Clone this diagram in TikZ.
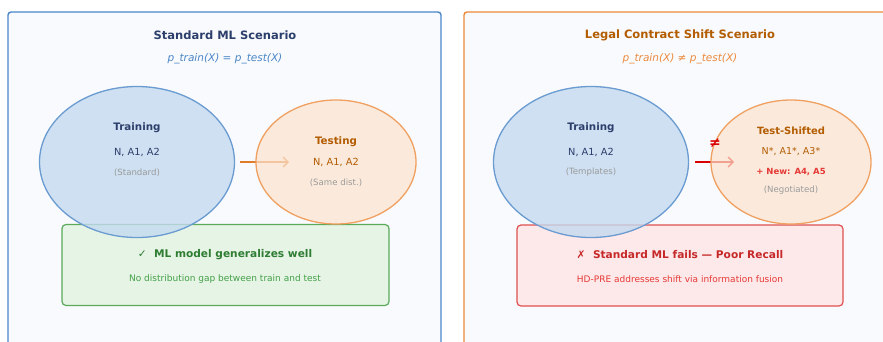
\documentclass[tikz,border=0pt]{standalone}
\usepackage{fontspec}
\setmainfont{DejaVu Sans}
\usetikzlibrary{shapes.geometric,arrows.meta}
\definecolor{panelfill}{HTML}{F8FAFD}
\definecolor{blueedge}{HTML}{4A86C8}
\definecolor{ellipseedge}{HTML}{6A9BD1}
\definecolor{bluefill}{HTML}{C4DAEF}
\definecolor{navy}{HTML}{2C3E6B}
\definecolor{orangeedge}{HTML}{F0A060}
\definecolor{orangefill}{HTML}{FDE4CE}
\definecolor{orangeline}{HTML}{EC8A3C}
\definecolor{darkorange}{HTML}{B35C00}
\definecolor{arroworange}{HTML}{E07B2A}
\definecolor{greenfill}{HTML}{E6F4E6}
\definecolor{greenedge}{HTML}{5AAA5A}
\definecolor{darkgreen}{HTML}{2E7D32}
\definecolor{midgreen}{HTML}{43A047}
\definecolor{redfill}{HTML}{FDE8EA}
\definecolor{rededge}{HTML}{E05050}
\definecolor{darkred}{HTML}{C62828}
\definecolor{midred}{HTML}{E53935}
\definecolor{softgray}{HTML}{9A9A9A}
\tikzset{
  panel/.style={rounded corners=3pt, line width=1.4pt, fill=panelfill},
  trainset/.style={ellipse, draw=ellipseedge, fill=bluefill, fill opacity=0.8, line width=1.3pt,
    minimum width=195pt, minimum height=151pt, inner sep=0pt},
  testset/.style={ellipse, draw=orangeedge, fill=orangefill, fill opacity=0.7, line width=1.3pt,
    minimum width=160pt, minimum height=124pt, inner sep=0pt},
  resultbox/.style={rounded corners=4pt, line width=1.2pt, minimum height=81pt, inner sep=0pt},
  ttl/.style={font=\fontsize{11.5}{13}\selectfont\bfseries},
  sub/.style={font=\fontsize{10.5}{12}\selectfont\itshape},
  setname/.style={font=\fontsize{10.3}{12}\selectfont\bfseries},
  setitems/.style={font=\fontsize{9.8}{11}\selectfont},
  setnote/.style={font=\fontsize{8.6}{10}\selectfont, text=softgray},
  boxhead/.style={font=\fontsize{10.6}{12}\selectfont\bfseries},
  boxtext/.style={font=\fontsize{9}{11}\selectfont},
  flow/.style={line width=2pt, -{Straight Barb[length=5pt,width=10pt,line width=1.4pt]}},
}
\begin{document}
\begin{tikzpicture}[x=1pt,y=-1pt]
\useasboundingbox (0,0) rectangle (883,341);
% panels (cut off by the page edge)
\draw[panel, draw=blueedge] (8,12) rectangle (441,360);
\draw[panel, draw=orangeline] (464,12) rectangle (900,360);

% ---------- standard scenario ----------
\node[ttl, text=navy] (t1) at (225,35) {Standard ML Scenario};
\node[sub, text=blueedge] (s1) at (225,59) {p\_train(X) = p\_test(X)};
\node[resultbox, draw=greenedge, fill=greenfill, minimum width=327pt] (ok) at (225.5,265) {};
\node[boxhead, text=darkgreen] (okh) at (225,255) {✓\ \ ML model generalizes well};
\node[boxtext, text=midgreen] (okt) at (225,279) {No distribution gap between train and test};
\coordinate (a1s) at (240,162);
\coordinate (a1e) at (289,162);
\draw[flow, arroworange] (a1s) -- (a1e);
\node[trainset] (tr1) at (137,162) {};
\node[testset] (te1) at (336,162) {};
\node[setname, text=navy] at (137,128) {Training};
\node[setitems, text=navy] at (137,152) {N, A1, A2};
\node[setnote] at (137,173) {(Standard)};
\node[setname, text=darkorange] at (336,142) {Testing};
\node[setitems, text=darkorange] at (336,162) {N, A1, A2};
\node[setnote] at (336,183) {(Same dist.)};

% ---------- shifted scenario ----------
\node[ttl, text=darkorange] (t2) at (680,35) {Legal Contract Shift Scenario};
\node[sub, text=orangeline] (s2) at (680,59) {p\_train(X) ≠ p\_test(X)};
\node[resultbox, draw=rededge, fill=redfill, minimum width=326pt] (bad) at (680,265.5) {};
\node[boxhead, text=darkred] (badh) at (680,255) {✗\ \ Standard ML fails — Poor Recall};
\node[boxtext, text=midred] (badt) at (680,279) {HD-PRE addresses shift via information fusion};
\coordinate (a2s) at (695,162);
\coordinate (a2e) at (734,162);
\draw[flow, red!85!black] (a2s) -- (a2e);
\node[trainset] (tr2) at (591,162) {};
\node[testset] (te2) at (791,162) {};
\node[font=\fontsize{14}{15}\selectfont\bfseries, text=red!85!black] (neq) at (715,143) {≠};
\node[setname, text=navy] at (591,128) {Training};
\node[setitems, text=navy] at (591,152) {N, A1, A2};
\node[setnote] at (591,172) {(Templates)};
\node[setname, text=darkorange, font=\fontsize{10}{12}\selectfont\bfseries] at (791,131) {Test-Shifted};
\node[setitems, text=darkorange, font=\fontsize{9.5}{11}\selectfont] at (791,152) {N*, A1*, A3*};
\node[font=\fontsize{8.5}{10}\selectfont\bfseries, text=midred] at (791,172) {+ New: A4, A5};
\node[setnote] at (791,190) {(Negotiated)};
\end{tikzpicture}
\end{document}
